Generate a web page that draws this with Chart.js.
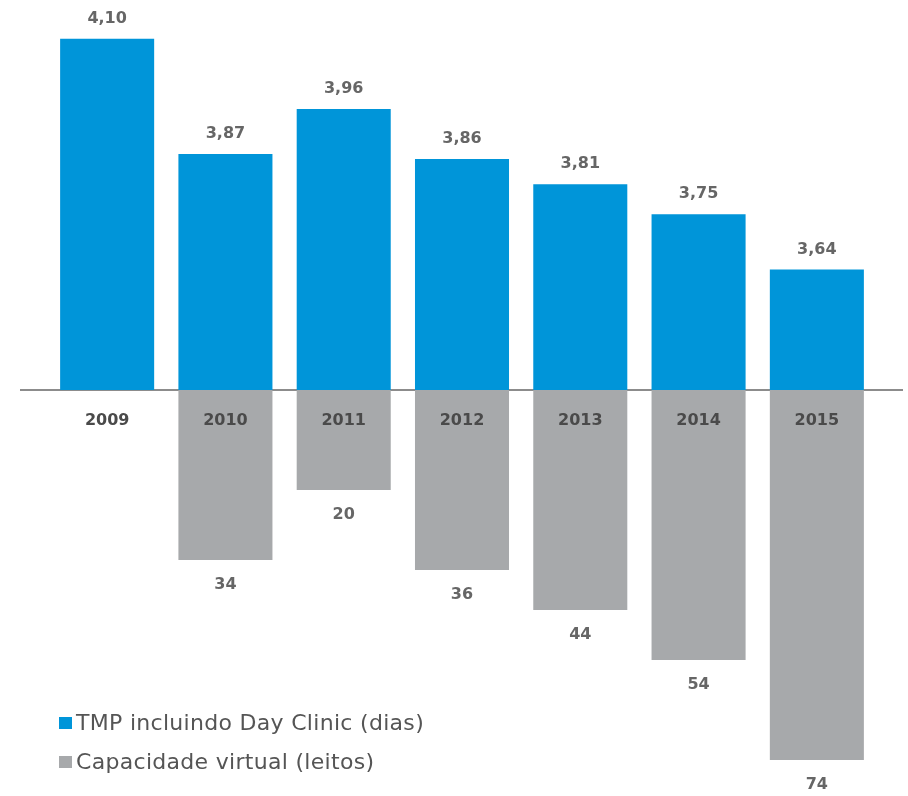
<!DOCTYPE html>
<html>
<head>
<meta charset="utf-8">
<script src="https://cdn.jsdelivr.net/npm/chart.js@4"></script>
<style>
    body { margin: 0; background: #fff; }
    #wrap { position: relative; width: 908px; height: 796px; }
    #legend { position: absolute; left: 59px; top: 703px; font-family: "DejaVu Sans", sans-serif; font-size: 22px; letter-spacing: 0.3px; color: #555; }
    #legend div { display: flex; align-items: center; height: 39px; }
    #legend span.box { display: inline-block; width: 13px; height: 12px; margin-right: 4px; }
</style>
</head>
<body>
<div id="wrap">
    <canvas id="tmpChart"></canvas>
    <div id="legend"></div>
</div>
<script>
// data
const years = ["2009", "2010", "2011", "2012", "2013", "2014", "2015"];
const tmpDays = [4.10, 3.87, 3.96, 3.86, 3.81, 3.75, 3.64];
const virtualBeds = [null, 34, 20, 36, 44, 54, 74];

const blue = '#0095d9';
const grey = '#a7a9ab';

// blue bars start at 3,4 ; grey bars hang down from the same line
const baselinePlugin = {
    id: 'baseline',
    beforeDatasetsDraw(chart) {
        const ctx = chart.ctx;
        const y = chart.scales.yGrey.getPixelForValue(0);
        ctx.save();
        ctx.strokeStyle = '#8c8c8c';
        ctx.lineWidth = 2;
        ctx.beginPath();
        ctx.moveTo(chart.chartArea.left - 28, y);
        ctx.lineTo(chart.chartArea.right + 27, y);
        ctx.stroke();
        ctx.restore();
    }
};

const valueLabels = {
    id: 'valueLabels',
    afterDatasetsDraw(chart) {
        const ctx = chart.ctx;
        ctx.save();
        ctx.font = 'bold 16px "DejaVu Sans", sans-serif';
        ctx.fillStyle = '#666';
        ctx.textAlign = 'center';
        ctx.textBaseline = 'middle';
        chart.data.datasets.forEach((ds, i) => {
            chart.getDatasetMeta(i).data.forEach((bar, j) => {
                if (i === 0) {
                    ctx.fillText(tmpDays[j].toFixed(2).replace('.', ','), bar.x, bar.y - 20);
                } else if (virtualBeds[j] != null) {
                    ctx.fillText(String(virtualBeds[j]), bar.x, bar.y + 25);
                }
            });
        });
        ctx.restore();
    }
};

const chart = new Chart(document.getElementById('tmpChart'), {
    type: 'bar',
    data: {
        labels: years,
        datasets: [{
            label: 'TMP incluindo Day Clinic (dias)',
            data: tmpDays,
            yAxisID: 'yBlue',
            base: 3.4,
            backgroundColor: blue,
            barPercentage: 0.795,
            categoryPercentage: 1,
            grouped: false
        }, {
            label: 'Capacidade virtual (leitos)',
            data: virtualBeds.map(v => v == null ? null : -v),
            yAxisID: 'yGrey',
            backgroundColor: grey,
            barPercentage: 0.795,
            categoryPercentage: 1,
            grouped: false
        }]
    },
    options: {
        responsive: true,
        maintainAspectRatio: false,
        animation: false,
        layout: { padding: { left: 48, right: 32, top: 0, bottom: 0 } },
        plugins: { legend: { display: false }, tooltip: { enabled: false } },
        scales: {
            x: {
                position: { yGrey: 0 },
                grid: { display: false, drawTicks: false },
                border: { display: false },
                ticks: {
                    z: 1,   // draw the years on top of the grey bars
                    padding: 21,
                    color: '#4a4a4a',
                    font: { family: '"DejaVu Sans", sans-serif', size: 16, weight: 'bold' }
                }
            },
            yBlue: { display: false, min: 2.591, max: 4.177 },
            yGrey: { display: false, min: -81.2, max: 78 }
        }
    },
    plugins: [baselinePlugin, valueLabels]
});

// legend built from the datasets
const legend = document.getElementById('legend');
chart.data.datasets.forEach(ds => {
    const row = document.createElement('div');
    const box = document.createElement('span');
    box.className = 'box';
    box.style.background = ds.backgroundColor;
    row.appendChild(box);
    row.appendChild(document.createTextNode(ds.label));
    legend.appendChild(row);
});
</script>
</body>
</html>
